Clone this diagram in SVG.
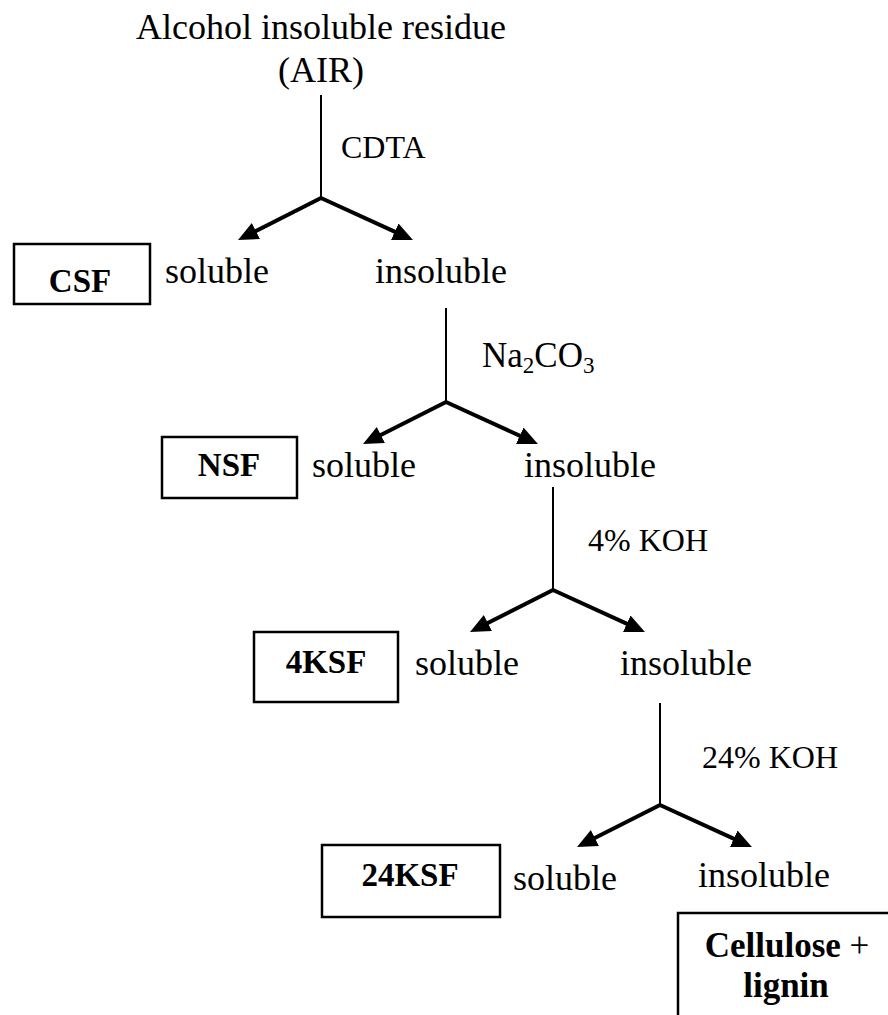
<svg xmlns="http://www.w3.org/2000/svg" width="888" height="1015" viewBox="0 0 888 1015">
<style>
text{font-family:"Liberation Serif","Times New Roman",serif;fill:#000}
.t{font-size:36px}
.lab{font-size:32px}
.b{font-size:33px;font-weight:bold;text-anchor:middle}
.bx{fill:#fff;stroke:#000;stroke-width:2.5}
.v{stroke:#000;stroke-width:2;fill:none}
.a{stroke:#000;stroke-width:4;fill:none;marker-end:url(#ah)}
</style>
<defs>
<marker id="ah" markerUnits="userSpaceOnUse" markerWidth="22" markerHeight="20" refX="4" refY="9" orient="auto" viewBox="0 0 22 18">
<path d="M0,0 L20,9 L0,18 z" fill="#000"/>
</marker>
</defs>
<rect width="888" height="1015" fill="#fff"/>
<g id="air">
<text class="t" x="321" y="39" text-anchor="middle">Alcohol insoluble residue</text>
<text class="t" x="321" y="82" text-anchor="middle">(AIR)</text>
</g>
<g id="connectors">
<line class="v" x1="321" y1="95" x2="321" y2="198"/>
<line class="a" x1="321" y1="198" x2="252.3" y2="232.8"/>
<line class="a" x1="321" y1="198" x2="398.4" y2="233.4"/>
<line class="v" x1="446" y1="308" x2="446" y2="402"/>
<line class="a" x1="446" y1="402" x2="377.3" y2="436.8"/>
<line class="a" x1="446" y1="402" x2="523.4" y2="437.4"/>
<line class="v" x1="553" y1="487" x2="553" y2="590"/>
<line class="a" x1="553" y1="590" x2="484.3" y2="624.8"/>
<line class="a" x1="553" y1="590" x2="630.4" y2="625.4"/>
<line class="v" x1="660" y1="703" x2="660" y2="805"/>
<line class="a" x1="660" y1="805" x2="591.3" y2="839.8"/>
<line class="a" x1="660" y1="805" x2="737.4" y2="840.4"/>
<text class="lab" x="341" y="158">CDTA</text>
<text x="482" y="367" style="font-size:35px">Na<tspan font-size="23" dy="6">2</tspan><tspan dy="-6">CO</tspan><tspan font-size="23" dy="6">3</tspan></text>
<text class="lab" x="588" y="551">4% KOH</text>
<text class="lab" x="702" y="768">24% KOH</text>
</g>
<g id="csf">
<rect class="bx" x="14" y="244" width="136" height="60"/>
<text class="b" x="80" y="292">CSF</text>
</g>
<g id="sol1"><text class="t" x="165" y="283">soluble</text></g>
<g id="insol1"><text class="t" x="375" y="283">insoluble</text></g>
<g id="nsf">
<rect class="bx" x="162" y="437" width="135" height="61"/>
<text class="b" x="229" y="476">NSF</text>
</g>
<g id="sol2"><text class="t" x="312" y="477">soluble</text></g>
<g id="insol2"><text class="t" x="524" y="477">insoluble</text></g>
<g id="ksf4">
<rect class="bx" x="254" y="632" width="144" height="70"/>
<text class="b" x="326" y="673">4KSF</text>
</g>
<g id="sol3"><text class="t" x="415" y="675">soluble</text></g>
<g id="insol3"><text class="t" x="620" y="675">insoluble</text></g>
<g id="ksf24">
<rect class="bx" x="322" y="845" width="178" height="72"/>
<text class="b" x="410" y="886">24KSF</text>
</g>
<g id="sol4"><text class="t" x="513" y="890">soluble</text></g>
<g id="insol4"><text class="t" x="698" y="887">insoluble</text></g>
<g id="cellulose">
<rect class="bx" x="678" y="913" width="230" height="130"/>
<text x="787" y="957" text-anchor="middle" style="font-size:35px"><tspan font-weight="bold">Cellulose</tspan> +</text>
<text x="786" y="997" text-anchor="middle" style="font-size:35px;font-weight:bold">lignin</text>
</g>
</svg>
